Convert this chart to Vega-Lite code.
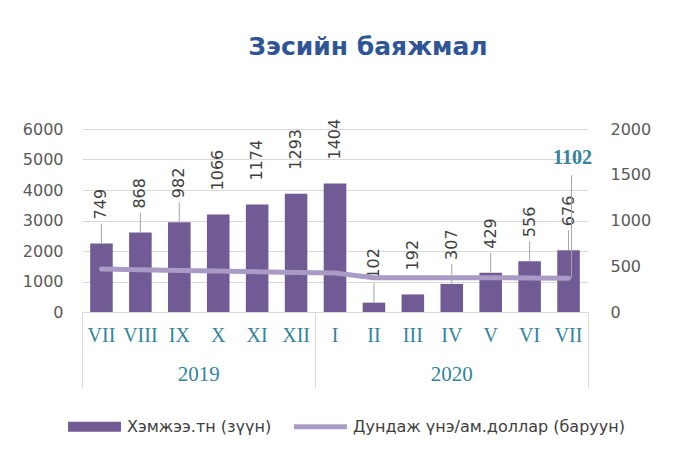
{
  "$schema": "https://vega.github.io/schema/vega-lite/v6.json",
  "autosize": {"type": "none"},
  "width": 506,
  "height": 183,
  "padding": {"left": 82, "top": 129, "right": 90, "bottom": 145},
  "background": "white",
  "title": {"text": "Зэсийн баяжмал", "frame": "group", "anchor": "middle", "offset": 59, "dx": 33, "font": "DejaVu Sans", "fontSize": 25, "fontWeight": "bold", "color": "#2F5597"},
  "config": {"view": {"stroke": null}, "font": "DejaVu Sans"},
  "data": {"values": [
    {"m": "2019-VII", "qty": 2247, "label": 749, "price": 470},
    {"m": "2019-VIII", "qty": 2604, "label": 868, "price": 461},
    {"m": "2019-IX", "qty": 2946, "label": 982, "price": 453},
    {"m": "2019-X", "qty": 3198, "label": 1066, "price": 447},
    {"m": "2019-XI", "qty": 3522, "label": 1174, "price": 440},
    {"m": "2019-XII", "qty": 3879, "label": 1293, "price": 433},
    {"m": "2020-I", "qty": 4212, "label": 1404, "price": 426},
    {"m": "2020-II", "qty": 306, "label": 102, "price": 375},
    {"m": "2020-III", "qty": 576, "label": 192, "price": 374},
    {"m": "2020-IV", "qty": 921, "label": 307, "price": 375},
    {"m": "2020-V", "qty": 1287, "label": 429, "price": 375},
    {"m": "2020-VI", "qty": 1668, "label": 556, "price": 372},
    {"m": "2020-VII", "qty": 2028, "label": 676, "price": 370, "note": "1102"}
  ]},
  "layer": [
    {
      "layer": [
        {
          "mark": {"type": "bar", "width": {"band": 0.58}},
          "encoding": {
            "x": {"field": "m", "type": "nominal", "sort": null, "title": null,
              "scale": {"paddingInner": 0, "paddingOuter": 0},
              "axis": {"orient": "bottom", "bandPosition": 1, "labelOffset": 0,
                "labelExpr": "split(datum.value,'-')[1]", "labelFont": "Liberation Serif", "labelFontSize": 20,
                "labelColor": "#31849B", "labelAngle": 0, "labelPadding": -63, "labelOverlap": false,
                "ticks": true, "tickSize": 76, "tickColor": "#D9D9D9",
                "tickOpacity": {"condition": {"test": "datum.value === '2020-VII'", "value": 1}, "value": 0},
                "domain": true, "domainColor": "#D9D9D9", "grid": false, "title": null}},
            "y": {"field": "qty", "type": "quantitative", "title": null,
              "scale": {"domain": [0, 6000], "nice": false},
              "axis": {"orient": "left", "values": [0, 1000, 2000, 3000, 4000, 5000, 6000], "format": "d", "grid": true, "gridColor": "#D9D9D9",
                "domain": false, "ticks": false, "labelPadding": 19, "labelFont": "DejaVu Sans", "labelFontSize": 16, "labelColor": "#595959", "title": null}},
            "color": {"datum": "Хэмжээ.тн (зүүн)", "type": "nominal",
              "scale": {"domain": ["Хэмжээ.тн (зүүн)", "Дундаж үнэ/ам.доллар (баруун)"], "range": ["#715B94", "#A99BC5"]},
              "legend": {"orient": "none", "legendX": -14, "legendY": 271, "direction": "horizontal", "title": null,
                "symbolType": "M-1,-0.19H1V0.19H-1Z", "symbolSize": 2800, "labelFont": "DejaVu Sans", "labelFontSize": 16,
                "labelColor": "#404040", "labelOffset": 6, "labelLimit": 0, "columnPadding": 22, "padding": 0,
                "encode": {"symbols": {"update": {
                  "shape": {"signal": "datum.value === 'Хэмжээ.тн (зүүн)' ? 'M-1,-0.19H1V0.19H-1Z' : 'M-1,-0.09H1V0.09H-1Z'"},
                  "fill": {"signal": "scale('color', datum.value)"},
                  "strokeWidth": {"value": 0}}}}}}
          }
        },
        {
          "transform": [{"filter": "indexof([749,868,982,102,307,429,556,676], datum.label) >= 0"}],
          "mark": {"type": "rule", "y2Offset": -20, "color": "#A6A6A6", "strokeWidth": 1},
          "encoding": {
            "x": {"field": "m", "type": "nominal", "sort": null, "title": null,
              "axis": {"orient": "bottom", "bandPosition": 1, "labelOffset": 0,
                "labelExpr": "split(datum.value,'-')[1]", "labelFont": "Liberation Serif", "labelFontSize": 20,
                "labelColor": "#31849B", "labelAngle": 0, "labelPadding": -63, "labelOverlap": false,
                "ticks": true, "tickSize": 76, "tickColor": "#D9D9D9",
                "tickOpacity": {"condition": {"test": "datum.value === '2020-VII'", "value": 1}, "value": 0},
                "domain": true, "domainColor": "#D9D9D9", "grid": false, "title": null}},
            "y": {"field": "qty", "type": "quantitative", "title": null,
              "axis": {"orient": "left", "values": [0, 1000, 2000, 3000, 4000, 5000, 6000], "format": "d", "grid": true, "gridColor": "#D9D9D9",
                "domain": false, "ticks": false, "labelPadding": 19, "labelFont": "DejaVu Sans", "labelFontSize": 16, "labelColor": "#595959", "title": null}},
            "y2": {"field": "qty"}
          }
        },
        {
          "mark": {"type": "text", "angle": 270, "align": "left", "baseline": "middle", "dx": 24, "font": "DejaVu Sans", "fontSize": 16, "color": "#404040"},
          "encoding": {
            "x": {"field": "m", "type": "nominal", "sort": null, "title": null,
              "axis": {"orient": "bottom", "bandPosition": 1, "labelOffset": 0,
                "labelExpr": "split(datum.value,'-')[1]", "labelFont": "Liberation Serif", "labelFontSize": 20,
                "labelColor": "#31849B", "labelAngle": 0, "labelPadding": -63, "labelOverlap": false,
                "ticks": true, "tickSize": 76, "tickColor": "#D9D9D9",
                "tickOpacity": {"condition": {"test": "datum.value === '2020-VII'", "value": 1}, "value": 0},
                "domain": true, "domainColor": "#D9D9D9", "grid": false, "title": null}},
            "y": {"field": "qty", "type": "quantitative", "title": null,
              "axis": {"orient": "left", "values": [0, 1000, 2000, 3000, 4000, 5000, 6000], "format": "d", "grid": true, "gridColor": "#D9D9D9",
                "domain": false, "ticks": false, "labelPadding": 19, "labelFont": "DejaVu Sans", "labelFontSize": 16, "labelColor": "#595959", "title": null}},
            "text": {"field": "label", "type": "quantitative"}
          }
        }
      ]
    },
    {
      "layer": [
        {
          "mark": {"type": "line", "strokeWidth": 5, "strokeCap": "round"},
          "encoding": {
            "x": {"field": "m", "type": "nominal", "sort": null, "title": null,
              "axis": {"orient": "bottom", "bandPosition": 0, "values": ["2019-VII", "2019-X", "2020-I", "2020-IV"],
                "labelExpr": "split(datum.value,'-')[0]", "labelFont": "Liberation Serif", "labelFontSize": 21,
                "labelColor": "#31849B", "labelAngle": 0, "labelPadding": -25, "labelOverlap": false,
                "labelOpacity": {"condition": {"test": "datum.value === '2019-X' || datum.value === '2020-IV'", "value": 1}, "value": 0},
                "labelOffset": {"condition": {"test": "datum.value === '2019-X'", "value": -19.46}, "value": 0},
                "ticks": true, "tickSize": 76, "tickColor": "#D9D9D9",
                "tickOpacity": {"condition": {"test": "datum.value === '2019-VII' || datum.value === '2020-I'", "value": 1}, "value": 0},
                "domain": false, "grid": false, "title": null}},
            "y": {"field": "price", "type": "quantitative", "title": null,
              "scale": {"domain": [0, 2000], "nice": false},
              "axis": {"orient": "right", "values": [0, 500, 1000, 1500, 2000], "format": "d", "grid": false, "domain": false, "ticks": false,
                "labelPadding": 22, "labelFont": "DejaVu Sans", "labelFontSize": 16, "labelColor": "#595959", "title": null}},
            "color": {"datum": "Дундаж үнэ/ам.доллар (баруун)", "type": "nominal"}
          }
        },
        {
          "transform": [{"filter": "datum.note != null"}],
          "mark": {"type": "rule", "y2Offset": -103, "xOffset": 3, "color": "#A6A6A6", "strokeWidth": 1},
          "encoding": {
            "x": {"field": "m", "type": "nominal", "sort": null, "title": null,
              "axis": {"orient": "bottom", "bandPosition": 0, "values": ["2019-VII", "2019-X", "2020-I", "2020-IV"],
                "labelExpr": "split(datum.value,'-')[0]", "labelFont": "Liberation Serif", "labelFontSize": 21,
                "labelColor": "#31849B", "labelAngle": 0, "labelPadding": -25, "labelOverlap": false,
                "labelOpacity": {"condition": {"test": "datum.value === '2019-X' || datum.value === '2020-IV'", "value": 1}, "value": 0},
                "labelOffset": {"condition": {"test": "datum.value === '2019-X'", "value": -19.46}, "value": 0},
                "ticks": true, "tickSize": 76, "tickColor": "#D9D9D9",
                "tickOpacity": {"condition": {"test": "datum.value === '2019-VII' || datum.value === '2020-I'", "value": 1}, "value": 0},
                "domain": false, "grid": false, "title": null}},
            "y": {"field": "price", "type": "quantitative", "title": null,
              "axis": {"orient": "right", "values": [0, 500, 1000, 1500, 2000], "format": "d", "grid": false, "domain": false, "ticks": false,
                "labelPadding": 22, "labelFont": "DejaVu Sans", "labelFontSize": 16, "labelColor": "#595959", "title": null}},
            "y2": {"field": "price"}
          }
        },
        {
          "transform": [{"filter": "datum.note != null"}],
          "mark": {"type": "text", "dy": -120, "dx": 4, "font": "Liberation Serif", "fontWeight": "bold", "fontSize": 20, "color": "#31849B"},
          "encoding": {
            "x": {"field": "m", "type": "nominal", "sort": null, "title": null,
              "axis": {"orient": "bottom", "bandPosition": 0, "values": ["2019-VII", "2019-X", "2020-I", "2020-IV"],
                "labelExpr": "split(datum.value,'-')[0]", "labelFont": "Liberation Serif", "labelFontSize": 21,
                "labelColor": "#31849B", "labelAngle": 0, "labelPadding": -25, "labelOverlap": false,
                "labelOpacity": {"condition": {"test": "datum.value === '2019-X' || datum.value === '2020-IV'", "value": 1}, "value": 0},
                "labelOffset": {"condition": {"test": "datum.value === '2019-X'", "value": -19.46}, "value": 0},
                "ticks": true, "tickSize": 76, "tickColor": "#D9D9D9",
                "tickOpacity": {"condition": {"test": "datum.value === '2019-VII' || datum.value === '2020-I'", "value": 1}, "value": 0},
                "domain": false, "grid": false, "title": null}},
            "y": {"field": "price", "type": "quantitative", "title": null,
              "axis": {"orient": "right", "values": [0, 500, 1000, 1500, 2000], "format": "d", "grid": false, "domain": false, "ticks": false,
                "labelPadding": 22, "labelFont": "DejaVu Sans", "labelFontSize": 16, "labelColor": "#595959", "title": null}},
            "text": {"field": "note", "type": "nominal"}
          }
        }
      ]
    }
  ],
  "resolve": {"scale": {"y": "independent"}, "axis": {"x": "independent"}}
}
